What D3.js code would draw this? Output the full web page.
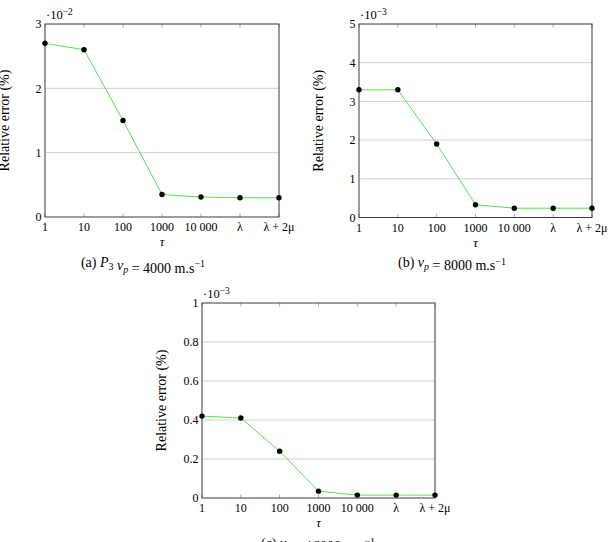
<!DOCTYPE html>
<html>
<head>
<meta charset="utf-8">
<script src="https://cdn.jsdelivr.net/npm/d3@7"></script>
<style>
  body { margin: 0; background: #fff; }
</style>
</head>
<body>
<svg id="chart" width="610" height="542"></svg>
<script>
// categories on the tau axis
const tauLabels = ["1", "10", "100", "1000", "10 000", "λ", "λ + 2μ"]

// relative error values (in units of the axis exponent)
const errP3_4000 = [2.7, 2.6, 1.5, 0.35, 0.31, 0.30, 0.30]   // x 10^-2
const err8000 = [3.3, 3.3, 1.9, 0.33, 0.24, 0.24, 0.24]      // x 10^-3
const err16000 = [0.42, 0.41, 0.24, 0.035, 0.015, 0.015, 0.015] // x 10^-3

// y ticks per panel
const ticksA = [0, 1, 2, 3]
const ticksB = [0, 1, 2, 3, 4, 5]
const ticksC = [0, 0.2, 0.4, 0.6, 0.8, 1]

const FONT = "Liberation Serif"
const svg = d3.select("#chart").style("font-family", FONT)

const drawPanel = (box, values, yTicks, expo, caption) => {
  const x = d3.scalePoint().domain(tauLabels).range([box.left, box.right]).padding(0)
  const y = d3.scaleLinear().domain([0, d3.max(yTicks)]).range([box.bottom, box.top])
  const g = svg.append("g")

  // horizontal grid
  g.append("g").selectAll("line")
    .data(yTicks.filter(d => d > 0 && d < d3.max(yTicks)))
    .join("line")
    .attr("x1", box.left).attr("x2", box.right)
    .attr("y1", d => y(d)).attr("y2", d => y(d))
    .attr("stroke", "#c4c4c4").attr("stroke-width", 0.8)

  // x ticks, inward on bottom and top
  const xt = g.append("g")
  tauLabels.forEach(t => {
    xt.append("line").attr("x1", x(t)).attr("x2", x(t))
      .attr("y1", box.bottom).attr("y2", box.bottom - 3.5)
      .attr("stroke", "#888").attr("stroke-width", 0.7)
    xt.append("line").attr("x1", x(t)).attr("x2", x(t))
      .attr("y1", box.top).attr("y2", box.top + 3.5)
      .attr("stroke", "#888").attr("stroke-width", 0.7)
  })

  // frame
  g.append("rect")
    .attr("x", box.left).attr("y", box.top)
    .attr("width", box.right - box.left).attr("height", box.bottom - box.top)
    .attr("fill", "none").attr("stroke", "#3a3a3a").attr("stroke-width", 1)

  // y tick labels
  g.append("g").selectAll("text")
    .data(yTicks)
    .join("text")
    .attr("x", box.left - 3.5)
    .attr("y", d => y(d) + 4.2)
    .attr("text-anchor", "end")
    .attr("font-size", 12)
    .attr("fill", "#000")
    .text(d => String(d))

  // x tick labels
  g.append("g").selectAll("text")
    .data(tauLabels)
    .join("text")
    .attr("x", d => x(d))
    .attr("y", box.bottom + 14)
    .attr("text-anchor", "middle")
    .attr("font-size", 12)
    .attr("fill", "#000")
    .text(d => d)

  // tau label
  g.append("text")
    .attr("x", (box.left + box.right) / 2)
    .attr("y", box.bottom + 29)
    .attr("text-anchor", "middle")
    .attr("font-size", 13)
    .attr("font-style", "italic")
    .attr("fill", "#000")
    .text("τ")

  // y label
  g.append("text")
    .attr("transform", `translate(${box.left - 36},${(box.top + box.bottom) / 2}) rotate(-90)`)
    .attr("text-anchor", "middle")
    .attr("font-size", 14)
    .attr("fill", "#000")
    .text("Relative error (%)")

  // exponent
  const ex = g.append("text")
    .attr("x", box.left + 1)
    .attr("y", box.top - 5)
    .attr("font-size", 12.5)
    .attr("fill", "#000")
  ex.append("tspan").text("·10")
  ex.append("tspan").attr("dy", -4.5).attr("font-size", 9.5).text("−" + expo)

  // series line
  g.append("path")
    .datum(values)
    .attr("fill", "none")
    .attr("stroke", "#55e055")
    .attr("stroke-width", 1)
    .attr("d", d3.line().x((d, i) => x(tauLabels[i])).y(d => y(d)))

  g.append("g").selectAll("circle")
    .data(values)
    .join("circle")
    .attr("cx", (d, i) => x(tauLabels[i]))
    .attr("cy", d => y(d))
    .attr("r", 2.7)
    .attr("fill", "#000")

  // caption
  const cap = g.append("text")
    .attr("x", box.capX)
    .attr("y", box.bottom + 49.5)
    .attr("text-anchor", "middle")
    .attr("font-size", 14)
    .attr("fill", "#000")
  caption(cap)
}

const sub = (t, s, italic) => {
  const sp = t.append("tspan").attr("font-size", 10).attr("dy", 3).text(s)
  if (italic) sp.attr("font-style", "italic")
  t.append("tspan").attr("dy", -3).text("")
}

drawPanel({left: 45, right: 279, top: 24, bottom: 217, capX: 143}, errP3_4000, ticksA, 2, t => {
  t.append("tspan").text("(a) ")
  t.append("tspan").attr("font-style", "italic").text("P")
  sub(t, "3", false)
  t.append("tspan").attr("font-style", "italic").text("  v")
  sub(t, "p", true)
  t.append("tspan").text(" = 4000 m.s")
  t.append("tspan").attr("dy", -5.5).attr("font-size", 10).text("−1")
})

drawPanel({left: 359, right: 592, top: 24, bottom: 217.5, capX: 452}, err8000, ticksB, 3, t => {
  t.append("tspan").text("(b) ")
  t.append("tspan").attr("font-style", "italic").text("v")
  sub(t, "p", true)
  t.append("tspan").text(" = 8000 m.s")
  t.append("tspan").attr("dy", -5.5).attr("font-size", 10).text("−1")
})

drawPanel({left: 202, right: 435, top: 303, bottom: 498, capX: 318}, err16000, ticksC, 3, t => {
  t.append("tspan").text("(c) ")
  t.append("tspan").attr("font-style", "italic").text("v")
  sub(t, "p", true)
  t.append("tspan").text(" = 16000 m.s")
  t.append("tspan").attr("dy", -5.5).attr("font-size", 10).text("−1")
})
</script>
</body>
</html>
